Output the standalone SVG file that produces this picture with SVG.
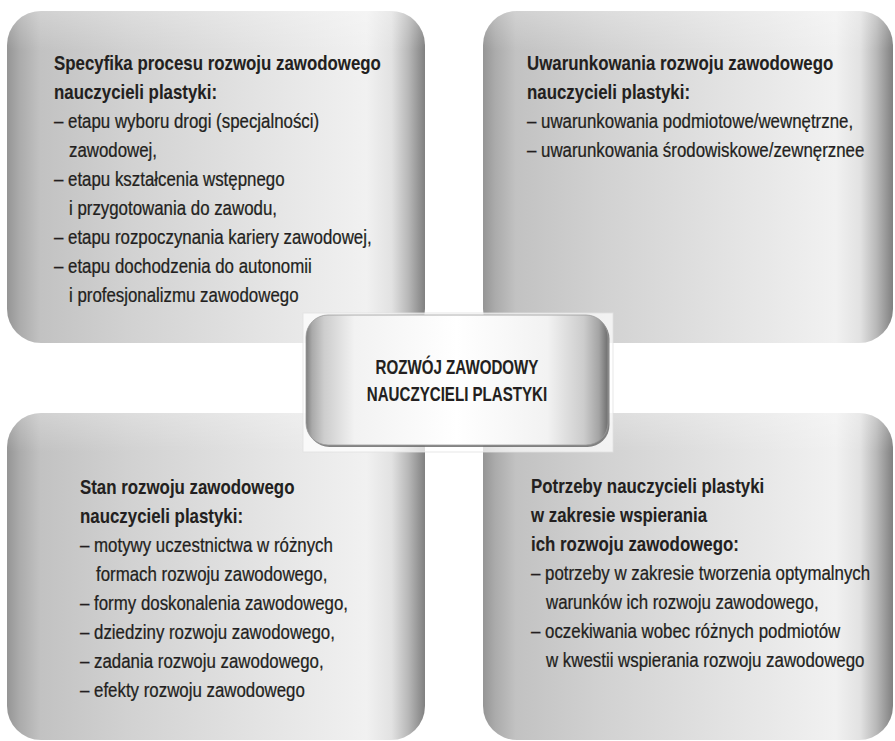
<svg xmlns="http://www.w3.org/2000/svg" width="895" height="741" viewBox="0 0 895 741">
  <style>
    text { font-family: "Liberation Sans", Arial, sans-serif; font-size: 19.5px; fill: #231f20; stroke: #231f20; stroke-width: 0.25px; }
    .b { font-weight: bold; stroke-width: 0.1px; }
    .title { font-size: 21px; font-weight: bold; text-anchor: middle; stroke-width: 0.1px; }
  </style>
  <defs>
    <linearGradient id="quad" x1="0" y1="0" x2="1" y2="0">
      <stop offset="0" stop-color="#959595"/>
      <stop offset="0.03" stop-color="#ababab"/>
      <stop offset="0.08" stop-color="#c2c2c2"/>
      <stop offset="0.3" stop-color="#d2d2d2"/>
      <stop offset="0.6" stop-color="#e3e3e3"/>
      <stop offset="0.86" stop-color="#f1f1f1"/>
      <stop offset="0.92" stop-color="#e2e2e2"/>
      <stop offset="0.96" stop-color="#b8b8b8"/>
      <stop offset="1" stop-color="#808080"/>
    </linearGradient>
    <linearGradient id="sheen" x1="0" y1="0" x2="0" y2="1">
      <stop offset="0" stop-color="#fff" stop-opacity="0.25"/>
      <stop offset="0.12" stop-color="#fff" stop-opacity="0"/>
    </linearGradient>
    <linearGradient id="hub" x1="0" y1="0" x2="1" y2="0">
      <stop offset="0" stop-color="#7e7e7e"/>
      <stop offset="0.02" stop-color="#a9a9a9"/>
      <stop offset="0.06" stop-color="#cdcdcd"/>
      <stop offset="0.16" stop-color="#f2f2f2"/>
      <stop offset="0.5" stop-color="#ffffff"/>
      <stop offset="0.8" stop-color="#f2f2f2"/>
      <stop offset="0.92" stop-color="#cccccc"/>
      <stop offset="0.97" stop-color="#a4a4a4"/>
      <stop offset="1" stop-color="#6e6e6e"/>
    </linearGradient>
  </defs>

  <rect width="895" height="741" fill="#ffffff"/>

  <!-- four quadrant panels -->
  <g id="panel-specyfika">
    <rect x="7" y="11" width="418" height="332" rx="34" fill="url(#quad)"/>
    <rect x="7" y="11" width="418" height="332" rx="34" fill="url(#sheen)"/>
  </g>
  <g id="panel-uwarunkowania">
    <rect x="483" y="11" width="410" height="332" rx="34" fill="url(#quad)"/>
    <rect x="483" y="11" width="410" height="332" rx="34" fill="url(#sheen)"/>
  </g>
  <g id="panel-stan">
    <rect x="7" y="413" width="418" height="327" rx="34" fill="url(#quad)"/>
    <rect x="7" y="413" width="418" height="327" rx="34" fill="url(#sheen)"/>
  </g>
  <g id="panel-potrzeby">
    <rect x="483" y="413" width="410" height="327" rx="34" fill="url(#quad)"/>
    <rect x="483" y="413" width="410" height="327" rx="34" fill="url(#sheen)"/>
  </g>

  <!-- panel texts, set in a condensed width -->
  <g id="text-specyfika" transform="translate(54 0) scale(0.865 1)">
    <text class="b" x="0" y="70">Specyfika procesu rozwoju zawodowego</text>
    <text class="b" x="0" y="99">nauczycieli plastyki:</text>
    <text x="0" y="128">– etapu wyboru drogi (specjalności)</text>
    <text x="17.3" y="157">zawodowej,</text>
    <text x="0" y="186">– etapu kształcenia wstępnego</text>
    <text x="17.3" y="215">i przygotowania do zawodu,</text>
    <text x="0" y="244">– etapu rozpoczynania kariery zawodowej,</text>
    <text x="0" y="273">– etapu dochodzenia do autonomii</text>
    <text x="17.3" y="302">i profesjonalizmu zawodowego</text>
  </g>
  <g id="text-uwarunkowania" transform="translate(527 0) scale(0.865 1)">
    <text class="b" x="0" y="70">Uwarunkowania rozwoju zawodowego</text>
    <text class="b" x="0" y="99">nauczycieli plastyki:</text>
    <text x="0" y="128">– uwarunkowania podmiotowe/wewnętrzne,</text>
    <text x="0" y="157">– uwarunkowania środowiskowe/zewnęrznee</text>
  </g>
  <g id="text-stan" transform="translate(80 0) scale(0.865 1)">
    <text class="b" x="0" y="494">Stan rozwoju zawodowego</text>
    <text class="b" x="0" y="523">nauczycieli plastyki:</text>
    <text x="0" y="552">– motywy uczestnictwa w różnych</text>
    <text x="18.5" y="581">formach rozwoju zawodowego,</text>
    <text x="0" y="610">– formy doskonalenia zawodowego,</text>
    <text x="0" y="639">– dziedziny rozwoju zawodowego,</text>
    <text x="0" y="668">– zadania rozwoju zawodowego,</text>
    <text x="0" y="697">– efekty rozwoju zawodowego</text>
  </g>
  <g id="text-potrzeby" transform="translate(531 0) scale(0.865 1)">
    <text class="b" x="0" y="493">Potrzeby nauczycieli plastyki</text>
    <text class="b" x="0" y="522">w zakresie wspierania</text>
    <text class="b" x="0" y="551">ich rozwoju zawodowego:</text>
    <text x="0" y="580">– potrzeby w zakresie tworzenia optymalnych</text>
    <text x="17.3" y="609">warunków ich rozwoju zawodowego,</text>
    <text x="0" y="638">– oczekiwania wobec różnych podmiotów</text>
    <text x="17.3" y="667">w kwestii wspierania rozwoju zawodowego</text>
  </g>

  <!-- connectors: none drawn; the hub sits over the panel corners -->
  <g id="connectors"></g>

  <!-- central hub with its pale backing plate -->
  <g id="hub">
    <rect x="303" y="313" width="310" height="139" fill="#ffffff" fill-opacity="0.7" stroke="#e2e2e2" stroke-width="0.8"/>
    <rect x="307.5" y="317" width="302" height="130" rx="22" fill="#5a5a5a" opacity="0.75"/>
    <rect x="306" y="315" width="302" height="130" rx="22" fill="url(#hub)" stroke="#9a9a9a" stroke-width="0.8"/>
    <g transform="translate(457 0) scale(0.72 1)">
      <text class="title" x="0" y="374">ROZWÓJ ZAWODOWY</text>
      <text class="title" x="0" y="401">NAUCZYCIELI PLASTYKI</text>
    </g>
  </g>
</svg>
